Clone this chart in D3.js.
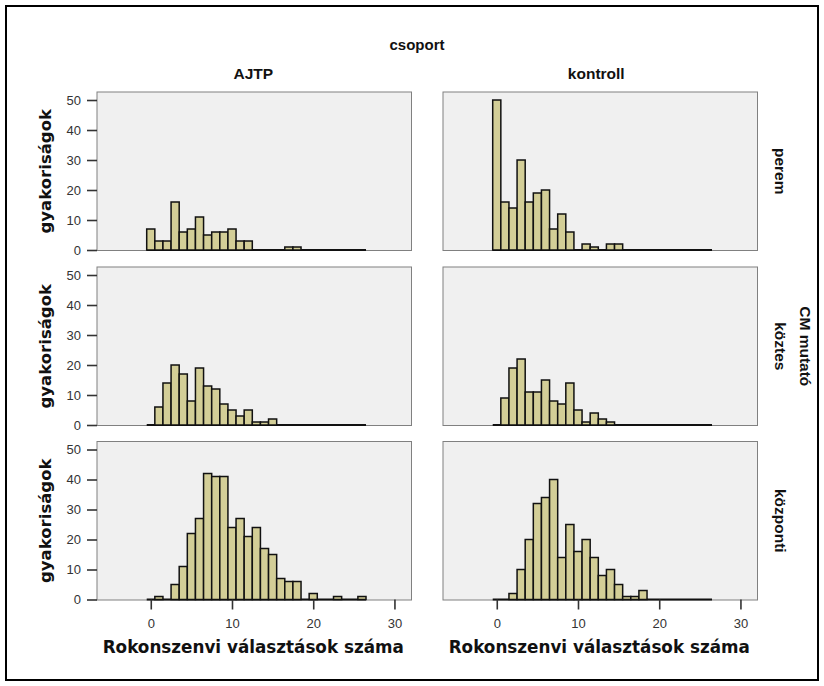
<!DOCTYPE html>
<html>
<head>
<meta charset="utf-8">
<script src="https://cdn.jsdelivr.net/npm/d3@7"></script>
<style>
  body { margin: 0; background: #fff; }
  svg { display: block; }
</style>
</head>
<body>
<svg id="chart" width="824" height="686"></svg>
<script>
// Facet variables
const groups = ["AJTP", "kontroll"];
const cmLevels = ["perem", "köztes", "központi"];

// Histogram bins: one per integer value 0..26 (bin width 1, centred on the value)
const binValues = d3.range(0, 27);

// Frequencies per bin, one array per facet
const ajtpPerem       = [7, 3, 3, 16, 6, 7, 11, 5, 6, 6, 7, 3, 3, 0, 0, 0, 0, 1, 1, 0, 0, 0, 0, 0, 0, 0, 0];
const ajtpKoztes      = [0, 6, 14, 20, 17, 8, 19, 13, 12, 7, 5, 3, 5, 1, 1, 2, 0, 0, 0, 0, 0, 0, 0, 0, 0, 0, 0];
const ajtpKozponti    = [0, 1, 0, 5, 11, 22, 27, 42, 41, 41, 24, 27, 21, 24, 17, 15, 7, 6, 6, 0, 2, 0, 0, 1, 0, 0, 1];
const kontrollPerem    = [50, 16, 14, 30, 16, 19, 20, 7, 12, 6, 0, 2, 1, 0, 2, 2, 0, 0, 0, 0, 0, 0, 0, 0, 0, 0, 0];
const kontrollKoztes   = [0, 9, 19, 22, 11, 11, 15, 8, 7, 14, 5, 1, 4, 2, 1, 0, 0, 0, 0, 0, 0, 0, 0, 0, 0, 0, 0];
const kontrollKozponti = [0, 0, 2, 10, 20, 32, 34, 40, 14, 25, 16, 20, 14, 8, 10, 5, 1, 1, 3, 0, 0, 0, 0, 0, 0, 0, 0];

// Axis ticks and titles
const yTicks = [0, 10, 20, 30, 40, 50];
const xTicks = [0, 10, 20, 30];
const yTitle = "gyakoriságok";
const xTitle = "Rokonszenvi választások száma";
const colTitle = "csoport";
const rowTitle = "CM mutató";

const counts = {
  "AJTP":     { "perem": ajtpPerem,     "köztes": ajtpKoztes,     "központi": ajtpKozponti },
  "kontroll": { "perem": kontrollPerem, "köztes": kontrollKoztes, "központi": kontrollKozponti }
};

// Layout
const colLeft = [97, 443];
const rowTop = [92, 267, 441.5];
const panelW = 314.5;
const panelH = 158.5;
const plotH = 158;          // zero line sits here inside each panel

const titleFont = "'Liberation Sans', Arial, sans-serif";
const axisTitleFont = "'DejaVu Sans', Verdana, sans-serif";
const headerSize = "15.5px";

const svg = d3.select("#chart");

// Outer frame
svg.append("rect")
  .attr("x", 6).attr("y", 6).attr("width", 812).attr("height", 674)
  .attr("fill", "#fff").attr("stroke", "#000").attr("stroke-width", 2);

const x = d3.scaleLinear().domain([-6.62, 32.1]).range([0, panelW]);
const y = d3.scaleLinear().domain([0, 52.67]).range([plotH, 0]);

groups.forEach((g, ci) => {
  cmLevels.forEach((lvl, ri) => {
    const data = binValues.map((v, i) => ({ v, n: counts[g][lvl][i] }));
    const panel = svg.append("g")
      .attr("transform", `translate(${colLeft[ci]},${rowTop[ri]})`);

    panel.append("rect")
      .attr("width", panelW).attr("height", panelH)
      .attr("fill", "#f0f0f0").attr("stroke", "#808080").attr("stroke-width", 1);

    // zero-count bins show as a flat line along the baseline
    panel.append("line")
      .attr("x1", x(binValues[0] - 0.5)).attr("x2", x(binValues[binValues.length - 1] + 0.5))
      .attr("y1", y(0)).attr("y2", y(0))
      .attr("stroke", "#111").attr("stroke-width", 1.8);

    panel.selectAll("rect.bar")
      .data(data.filter(d => d.n > 0))
      .join("rect")
      .attr("class", "bar")
      .attr("x", d => x(d.v - 0.5))
      .attr("width", d => x(d.v + 0.5) - x(d.v - 0.5))
      .attr("y", d => y(d.n))
      .attr("height", d => y(0) - y(d.n))
      .attr("fill", "#d3ce97")
      .attr("stroke", "#111")
      .attr("stroke-width", 1.5);

    if (ci === 0) {
      const ax = panel.append("g")
        .call(d3.axisLeft(y).tickValues(yTicks).tickSize(10).tickPadding(6));
      ax.select(".domain").remove();
      ax.selectAll(".tick line").attr("stroke", "#333").attr("stroke-width", 1.6);
      ax.selectAll(".tick text")
        .attr("fill", "#333").style("font-family", titleFont).style("font-size", "13px");

      panel.append("text")
        .attr("transform", `translate(-46,${panelH / 2}) rotate(-90)`)
        .attr("text-anchor", "middle")
        .style("font-family", axisTitleFont).style("font-weight", "bold").style("font-size", "16.5px")
        .attr("fill", "#111")
        .text(yTitle);
    }

    if (ri === cmLevels.length - 1) {
      const ax = panel.append("g")
        .attr("transform", `translate(0,${plotH})`)
        .call(d3.axisBottom(x).tickValues(xTicks).tickSize(10).tickPadding(9));
      ax.select(".domain").remove();
      ax.selectAll(".tick line").attr("stroke", "#333").attr("stroke-width", 1.6);
      ax.selectAll(".tick text")
        .attr("fill", "#333").style("font-family", titleFont).style("font-size", "13px");

      panel.append("text")
        .attr("x", panelW / 2 - 1).attr("y", 211)
        .attr("text-anchor", "middle")
        .style("font-family", axisTitleFont).style("font-weight", "bold").style("font-size", "16.8px")
        .attr("fill", "#111")
        .text(xTitle);
    }

    if (ri === 0) {
      panel.append("text")
        .attr("x", panelW / 2 - (ci === 1 ? 4 : 1)).attr("y", -13)
        .attr("text-anchor", "middle")
        .style("font-family", titleFont).style("font-weight", "bold").style("font-size", headerSize)
        .attr("fill", "#111")
        .text(g);
    }

    if (ci === groups.length - 1) {
      panel.append("text")
        .attr("transform", `translate(${panelW + 17},${panelH / 2}) rotate(90)`)
        .attr("text-anchor", "middle")
        .style("font-family", titleFont).style("font-weight", "bold").style("font-size", headerSize)
        .attr("fill", "#111")
        .text(lvl);
    }
  });
});

// Facet variable titles
svg.append("text")
  .attr("x", 417).attr("y", 50)
  .attr("text-anchor", "middle")
  .style("font-family", titleFont).style("font-weight", "bold").style("font-size", "15px")
  .attr("fill", "#111")
  .text(colTitle);

svg.append("text")
  .attr("transform", `translate(${colLeft[1] + panelW + 42},${rowTop[1] + panelH / 2}) rotate(90)`)
  .attr("text-anchor", "middle")
  .style("font-family", titleFont).style("font-weight", "bold").style("font-size", headerSize)
  .attr("fill", "#111")
  .text(rowTitle);
</script>
</body>
</html>
